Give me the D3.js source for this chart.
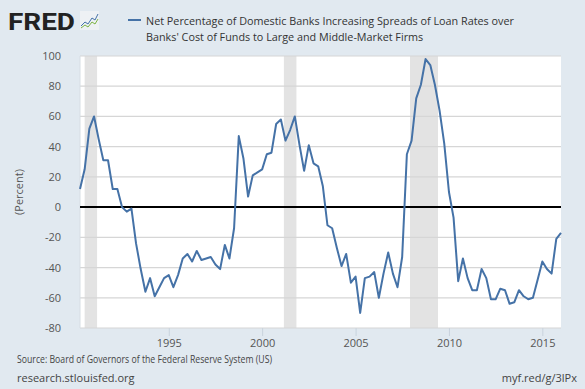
<!DOCTYPE html>
<head>
  <meta charset="utf-8">
  <script src="https://d3js.org/d3.v7.min.js"></script>
  <style>
    body { margin: 0; background: #e1e9f0; }
    svg { display: block; font-family: "Open Sans", sans-serif; }
  </style>
</head>
<body>
<script>
  // quarterly values, 1990Q2 .. 2016Q1
  var firstQuarter = "1990-04-01";
  var spreads = [
    12, 25, 52, 60, 45, 31, 31, 12, 12, 0,
    -3, -1, -24, -41, -56, -47, -59, -53, -47, -45,
    -53, -45, -34, -31, -36, -29, -35, -34, -33, -38,
    -41, -25, -34, -14, 47, 32, 7, 21, 23, 25,
    35, 36, 55, 58, 44, 51, 60, 41, 24, 41,
    29, 27, 14, -12, -14, -27, -39, -31, -50, -46,
    -70, -47, -46, -43, -60, -44, -30, -44, -53, -33,
    35, 44, 72, 81, 98, 94, 81, 64, 42, 10,
    -7, -49, -34, -47, -55, -55, -41, -47, -61, -61,
    -54, -55, -64, -63, -55, -59, -61, -60, -48, -36,
    -41, -44, -21, -17
  ];
  var recessions = [
    ["1990-07-01", "1991-03-01"],
    ["2001-03-01", "2001-11-01"],
    ["2007-12-01", "2009-06-01"]
  ];
  var yTicks = [-80, -60, -40, -20, 0, 20, 40, 60, 80, 100];
  var xTickYears = [1995, 2000, 2005, 2010, 2015];
  var legendLines = [
    "Net Percentage of Domestic Banks Increasing Spreads of Loan Rates over",
    "Banks' Cost of Funds to Large and Middle-Market Firms"
  ];

  var w = 585, h = 389;
  var plotL = 80, plotR = 561, plotT = 56, plotB = 328;

  var parse = d3.timeParse("%Y-%m-%d");
  var start = parse(firstQuarter);
  var data = spreads.map(function(v, i) {
    return { date: d3.timeMonth.offset(start, 3 * i), value: v };
  });

  var x = d3.scaleTime()
    .domain([start, parse("2016-01-01")])
    .range([plotL, plotR]);
  var y = d3.scaleLinear().domain([-80, 100]).range([plotB, plotT]);

  var svg = d3.select("body").append("svg")
    .attr("width", w)
    .attr("height", h);

  // plot background
  svg.append("rect")
    .attr("x", plotL).attr("y", plotT)
    .attr("width", plotR - plotL).attr("height", plotB - plotT)
    .attr("fill", "#ffffff");

  // recession bars
  svg.selectAll("rect.rec")
    .data(recessions)
    .enter().append("rect")
    .attr("class", "rec")
    .attr("x", function(d) { return x(parse(d[0])); })
    .attr("width", function(d) { return x(parse(d[1])) - x(parse(d[0])); })
    .attr("y", plotT)
    .attr("height", plotB - plotT)
    .attr("fill", "#e3e3e3");

  // grid
  svg.selectAll("line.grid")
    .data(yTicks.filter(function(t) { return t !== 0; }))
    .enter().append("line")
    .attr("x1", plotL).attr("x2", plotR)
    .attr("y1", function(d) { return y(d); })
    .attr("y2", function(d) { return y(d); })
    .attr("stroke", "#d6d6d6")
    .attr("stroke-width", 1.2);

  svg.append("line")
    .attr("x1", plotL).attr("x2", plotL)
    .attr("y1", plotT).attr("y2", plotB)
    .attr("stroke", "#d6dde4");

  // y tick labels
  svg.selectAll("text.ytick")
    .data(yTicks)
    .enter().append("text")
    .attr("x", 61)
    .attr("y", function(d) { return y(d) + 4; })
    .attr("text-anchor", "end")
    .attr("font-size", 11)
    .attr("fill", "#555")
    .text(function(d) { return d; });

  svg.append("text")
    .attr("transform", "translate(23," + ((plotT + plotB) / 2) + ") rotate(-90)")
    .attr("text-anchor", "middle")
    .attr("font-size", 11)
    .attr("fill", "#555")
    .text("(Percent)");

  // x ticks
  var xa = svg.append("g")
    .attr("transform", "translate(0," + plotB + ")")
    .call(d3.axisBottom(x)
      .tickValues(xTickYears.map(function(yr) { return new Date(yr, 0, 1); }))
      .tickFormat(d3.timeFormat("%Y"))
      .tickSize(8)
      .tickPadding(3));
  xa.select(".domain").remove();
  xa.selectAll("line").attr("stroke", "#c9d3dd");
  xa.selectAll("text")
    .attr("font-size", 11)
    .attr("font-family", "Open Sans, sans-serif")
    .attr("fill", "#555");

  // zero line
  svg.append("line")
    .attr("x1", plotL).attr("x2", plotR)
    .attr("y1", y(0)).attr("y2", y(0))
    .attr("stroke", "#000")
    .attr("stroke-width", 2);

  // series
  var line = d3.line()
    .x(function(d) { return x(d.date); })
    .y(function(d) { return y(d.value); });

  svg.append("path")
    .datum(data)
    .attr("d", line)
    .attr("fill", "none")
    .attr("stroke", "#4572a7")
    .attr("stroke-width", 2)
    .attr("stroke-linejoin", "round");

  // header: logo + legend
  svg.append("text")
    .attr("x", 8).attr("y", 30)
    .attr("font-size", 24)
    .attr("font-weight", "bold")
    .attr("font-family", "Roboto, sans-serif")
    .attr("textLength", 67)
    .attr("lengthAdjust", "spacingAndGlyphs")
    .attr("fill", "#222")
    .text("FRED");
  var icon = svg.append("g").attr("transform", "translate(80,11)");
  icon.append("rect").attr("width", 19).attr("height", 19).attr("fill", "#eef1f4");
  icon.append("path")
    .attr("d", "M1,15 L5,11 L8,13 L12,7 L15,9 L18,3")
    .attr("fill", "none").attr("stroke", "#4572a7").attr("stroke-width", 1);
  icon.append("path")
    .attr("d", "M1,17 L5,14 L8,16 L12,11 L15,13 L18,8")
    .attr("fill", "none").attr("stroke", "#7cb342").attr("stroke-width", 1);

  svg.append("line")
    .attr("x1", 128).attr("x2", 141)
    .attr("y1", 20).attr("y2", 20)
    .attr("stroke", "#4572a7").attr("stroke-width", 2);

  svg.selectAll("text.legend")
    .data(legendLines)
    .enter().append("text")
    .attr("x", 146)
    .attr("y", function(d, i) { return 24.5 + i * 16.5; })
    .attr("font-size", 10.8)
    .attr("fill", "#333")
    .text(function(d) { return d; });

  // footer
  svg.append("text")
    .attr("x", 17).attr("y", 363)
    .attr("font-size", 10)
    .attr("fill", "#444")
    .attr("textLength", 255)
    .attr("lengthAdjust", "spacingAndGlyphs")
    .text("Source: Board of Governors of the Federal Reserve System (US)");
  svg.append("text")
    .attr("x", 17).attr("y", 382)
    .attr("font-size", 11)
    .attr("fill", "#444")
    .text("research.stlouisfed.org");
  svg.append("text")
    .attr("x", 577).attr("y", 382)
    .attr("text-anchor", "end")
    .attr("font-size", 11)
    .attr("fill", "#444")
    .text("myf.red/g/3lPx");
</script>
</body>
